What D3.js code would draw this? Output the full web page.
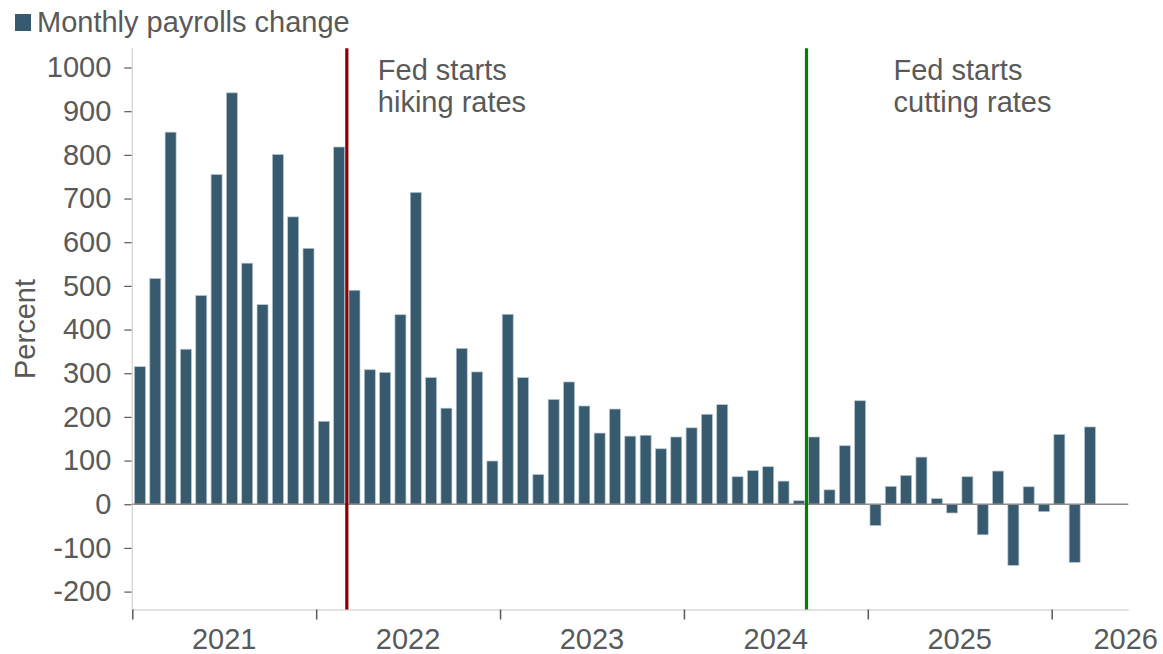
<!DOCTYPE html>
<html>
<head>
<meta charset="utf-8">
<script src="https://cdn.jsdelivr.net/npm/d3@7"></script>
<style>
  html, body { margin: 0; padding: 0; background: #ffffff; }
  svg { display: block; font-family: "Liberation Sans", Arial, Helvetica, sans-serif; }
</style>
</head>
<body>
<svg id="chart" width="1163" height="654"></svg>
<script>
// ---- Data ----
const startYear = 2021;
const monthLabels = [
  "2021-01","2021-02","2021-03","2021-04","2021-05","2021-06","2021-07","2021-08","2021-09","2021-10","2021-11","2021-12",
  "2022-01","2022-02","2022-03","2022-04","2022-05","2022-06","2022-07","2022-08","2022-09","2022-10","2022-11","2022-12",
  "2023-01","2023-02","2023-03","2023-04","2023-05","2023-06","2023-07","2023-08","2023-09","2023-10","2023-11","2023-12",
  "2024-01","2024-02","2024-03","2024-04","2024-05","2024-06","2024-07","2024-08","2024-09","2024-10","2024-11","2024-12",
  "2025-01","2025-02","2025-03","2025-04","2025-05","2025-06","2025-07","2025-08","2025-09","2025-10","2025-11","2025-12",
  "2026-01","2026-02","2026-03"
];
const payrollChange = [
  315, 517, 852, 355, 478, 755, 942, 552, 457, 801, 658, 586,
  190, 818, 490, 308, 302, 434, 714, 290, 220, 357, 303, 99,
  435, 290, 68, 240, 280, 225, 163, 218, 156, 158, 127, 154,
  175, 206, 228, 63, 77, 86, 53, 8, 154, 33, 134, 237,
  -49, 41, 66, 108, 13, -20, 63, -70, 76, -140, 40, -17,
  160, -133, 177
];
const yTicks = [-200, -100, 0, 100, 200, 300, 400, 500, 600, 700, 800, 900, 1000];
const yearLabels = ["2021", "2022", "2023", "2024", "2025", "2026"];
const eventMonths = ["2022-03", "2024-09"];
const eventTexts = [["Fed starts", "hiking rates"], ["Fed starts", "cutting rates"]];
const eventColors = ["#8b0000", "#008000"];
const seriesName = "Monthly payrolls change";
const yAxisTitle = "Percent";

// ---- Layout ----
const W = 1163, H = 654;
const plotLeft = 132.3, plotRight = 1128.3, plotTop = 48.3, plotBottom = 609.5;
const barColor = "#375a6e";
const textColor = "#595959";
const fontSize = 29;

const monthIndex = m => {
  const [yy, mo] = m.split("-").map(Number);
  return (yy - startYear) * 12 + (mo - 1);
};
const totalMonths = monthIndex("2026-06");

const x = d3.scaleLinear().domain([0, totalMonths]).range([plotLeft, plotRight]);
const y = d3.scaleLinear().domain([-241, 1044]).range([plotBottom, plotTop]);

const svg = d3.select("#chart");

// Legend
svg.append("rect").attr("x", 15).attr("y", 14).attr("width", 16).attr("height", 17).attr("fill", barColor);
svg.append("text").attr("x", 37).attr("y", 31.5).attr("fill", textColor)
  .attr("font-size", fontSize).text(seriesName);

// Y axis title
svg.append("text")
  .attr("transform", `translate(35,329) rotate(-90)`)
  .attr("text-anchor", "middle").attr("fill", textColor).attr("font-size", fontSize)
  .text(yAxisTitle);

// Y axis
const yAxis = d3.axisLeft(y).tickValues(yTicks).tickSize(8).tickSizeOuter(0).tickPadding(13)
  .tickFormat(d => String(d));
const gy = svg.append("g").attr("transform", `translate(${plotLeft},0)`).call(yAxis);
gy.select(".domain").remove();
gy.selectAll(".tick line").attr("stroke", textColor).attr("stroke-width", 1.2);
gy.selectAll(".tick text").attr("fill", textColor).attr("font-size", fontSize)
  .attr("font-family", "Liberation Sans, Arial, sans-serif");
svg.append("line").attr("x1", plotLeft).attr("x2", plotLeft).attr("y1", plotTop).attr("y2", plotBottom)
  .attr("stroke", "#d9d9d9").attr("stroke-width", 1.5);

// X axis
const xTickVals = yearLabels.map((_, i) => i * 12);
const xAxis = d3.axisBottom(x).tickValues(xTickVals).tickSize(10).tickSizeOuter(0).tickFormat("");
const gx = svg.append("g").attr("transform", `translate(0,${plotBottom})`).call(xAxis);
gx.select(".domain").attr("stroke", "#d9d9d9").attr("stroke-width", 1.5);
gx.selectAll(".tick line").attr("stroke", textColor).attr("stroke-width", 1.5);

// Year labels (centred in each year, clamped to the right edge)
yearLabels.forEach((lab, i) => {
  const t = svg.append("text").attr("y", 649).attr("fill", textColor).attr("font-size", fontSize).text(lab);
  const cx = x(i * 12 + 6);
  const w = t.node().getComputedTextLength();
  if (cx + w / 2 > W - 5) {
    t.attr("x", W - 5).attr("text-anchor", "end");
  } else {
    t.attr("x", cx).attr("text-anchor", "middle");
  }
});

// Bars
const barW = 11;
svg.append("g").selectAll("rect").data(payrollChange).join("rect")
  .attr("x", (d, i) => x(monthIndex(monthLabels[i]) + 0.5) - barW / 2)
  .attr("width", barW)
  .attr("y", d => y(Math.max(0, d)))
  .attr("height", d => Math.abs(y(d) - y(0)))
  .attr("fill", barColor)
  .attr("stroke", "#b7c6d0")
  .attr("stroke-width", 0.7);

// Zero line
svg.append("line").attr("x1", plotLeft).attr("x2", plotRight).attr("y1", y(0)).attr("y2", y(0))
  .attr("stroke", "#8c8c8c").attr("stroke-width", 1.6);

// Event lines and annotations
const textOffsets = [31, 87];
eventMonths.forEach((m, k) => {
  const xm = x(monthIndex(m));
  svg.append("line").attr("x1", xm).attr("x2", xm).attr("y1", plotTop).attr("y2", plotBottom)
    .attr("stroke", eventColors[k]).attr("stroke-width", 3.2);
  eventTexts[k].forEach((line, j) => {
    svg.append("text").attr("x", xm + textOffsets[k]).attr("y", 80 + j * 32)
      .attr("fill", textColor).attr("font-size", fontSize).text(line);
  });
});
</script>
</body>
</html>
